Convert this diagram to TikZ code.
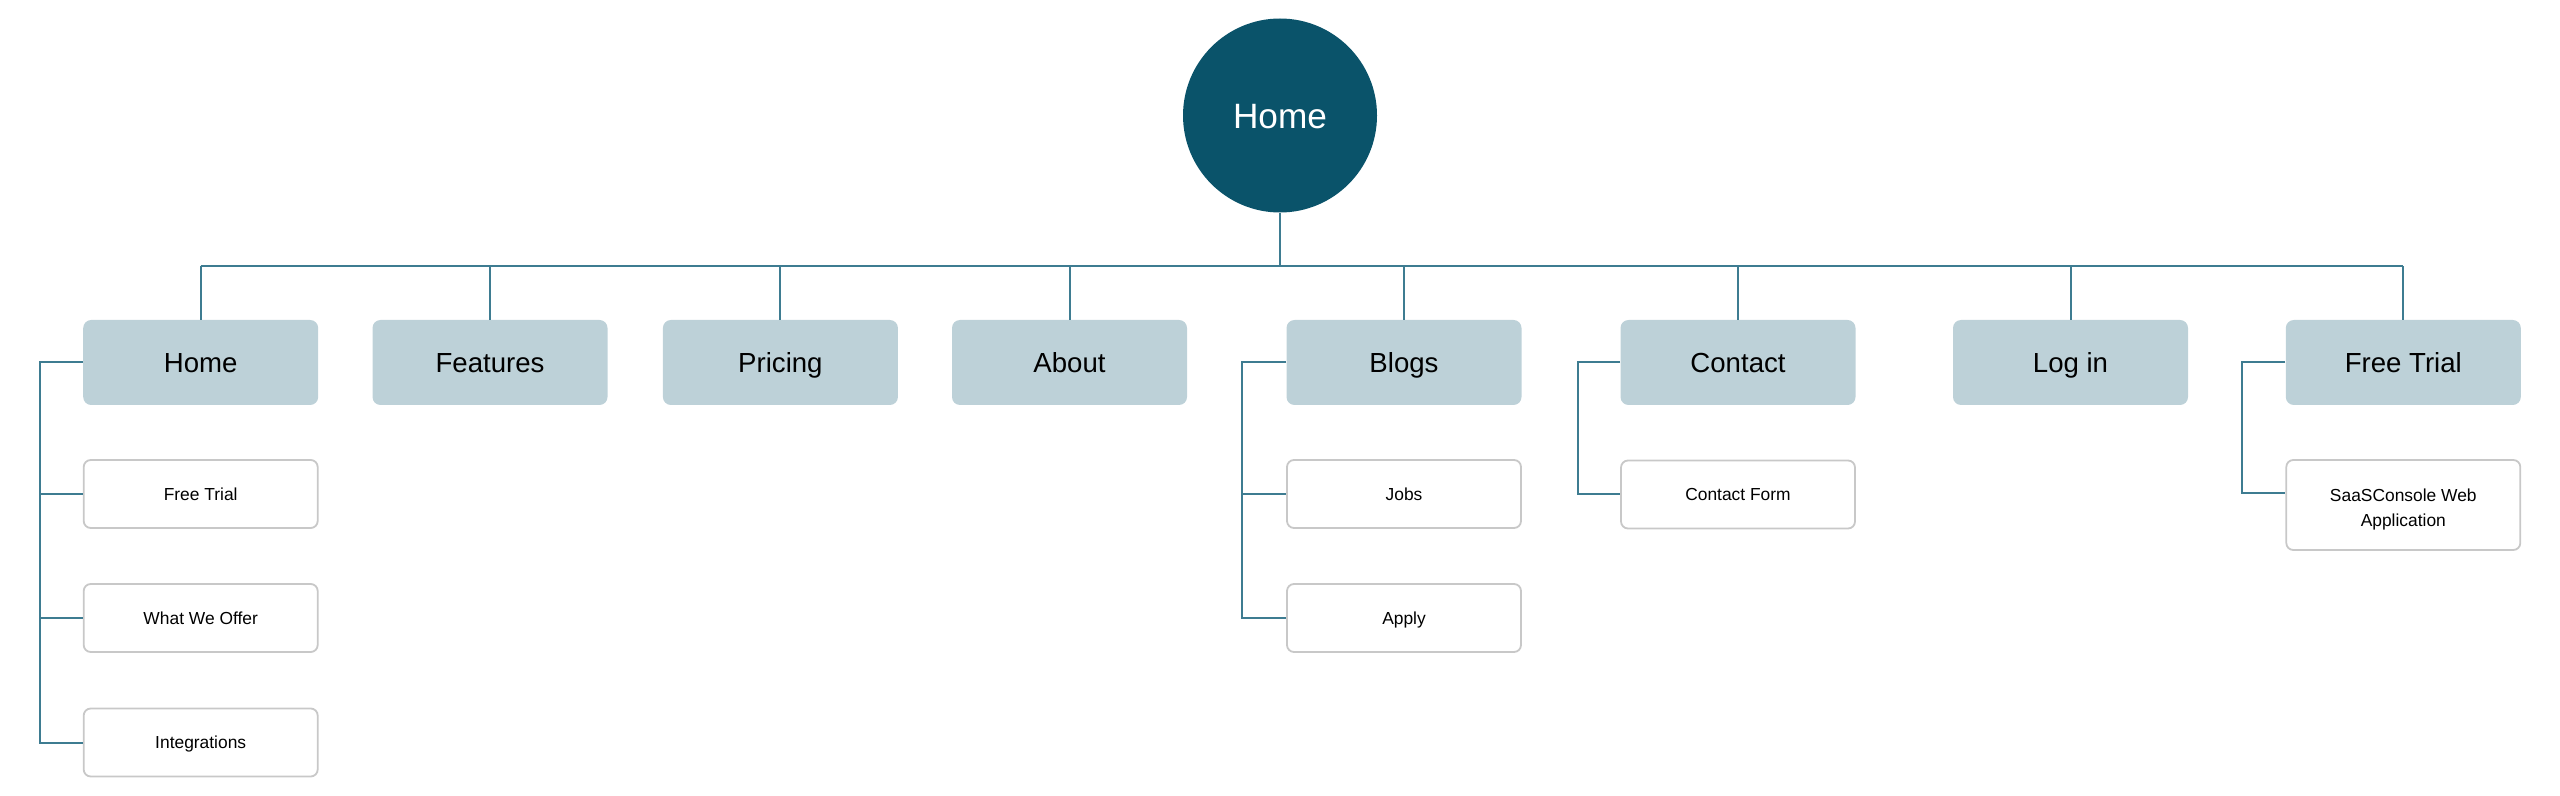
\documentclass[tikz,border=0pt]{standalone}
\usepackage{fontspec}
\setmainfont{Liberation Sans}
\definecolor{rootc}{RGB}{10,83,106}
\definecolor{l1fill}{RGB}{189,209,216}
\definecolor{linec}{RGB}{62,124,145}
\definecolor{subborder}{RGB}{200,200,200}
\tikzset{
  rootnode/.style={circle, fill=rootc, minimum size=97pt, inner sep=0pt, text=white, font=\fontsize{17.6}{21}\selectfont, text height=12.6pt, text depth=0pt},
  lonebox/.style={rectangle, rounded corners=4pt, fill=l1fill, minimum width=117.5pt, minimum height=42.5pt, inner sep=0pt, font=\fontsize{13.8}{16}\selectfont, text height=9.9pt, text depth=0pt},
  subbox/.style={rectangle, rounded corners=3.5pt, draw=subborder, line width=0.9pt, fill=white, minimum width=117pt, minimum height=34pt, inner sep=0pt, font=\fontsize{8.7}{12.5}\selectfont, align=center},
  oneline/.style={text height=6.25pt, text depth=0pt},
  conn/.style={draw=linec, line width=1pt},
}
\begin{document}
\begin{tikzpicture}[x=0.5pt,y=-0.5pt]
\useasboundingbox (0,0) rectangle (2560,796);
\node[rootnode] (root) at (1280,115.5) {Home};
\coordinate (bar) at (0,266);
% level one
\node[lonebox] (hHome) at (200.7,362.5) {Home};
\node[lonebox] (hFeat) at (490,362.5) {Features};
\node[lonebox] (hPric) at (780.4,362.5) {Pricing};
\node[lonebox] (hAbout) at (1069.5,362.5) {About};
\node[lonebox] (hBlogs) at (1404,362.5) {Blogs};
\node[lonebox] (hCont) at (1738,362.5) {Contact};
\node[lonebox] (hLog) at (2070.5,362.5) {Log in};
\node[lonebox] (hFree) at (2403.3,362.5) {Free Trial};
% sub pages
\node[subbox, oneline] (sFree) at (200.7,494) {Free Trial};
\node[subbox, oneline] (sOffer) at (200.7,618) {What We Offer};
\node[subbox, oneline] (sInt) at (200.7,742.5) {Integrations};
\node[subbox, oneline] (sJobs) at (1404,494) {Jobs};
\node[subbox, oneline] (sApply) at (1404,618) {Apply};
\node[subbox, oneline] (sForm) at (1738,494.5) {Contact Form};
\node[subbox, minimum height=45pt] (sSaas) at (2403.3,505) {\rule{0pt}{11pt}SaaSConsole Web\\Application};
% spines
\coordinate (spHome) at (40,0);
\coordinate (spBlogs) at (1242,0);
\coordinate (spCont) at (1577.5,0);
\coordinate (spFree) at (2241.5,0);
% trunk
\draw[conn] (root.south) -- (root.south |- bar);
\draw[conn] (hHome.north |- bar) -- (hFree.north |- bar);
\foreach \n in {hHome,hFeat,hPric,hAbout,hBlogs,hCont,hLog,hFree}
  \draw[conn] (\n.north) -- (\n.north |- bar);
% Home branch
\draw[conn] (hHome.west) -- (hHome.west -| spHome) |- (sInt.west);
\draw[conn] (sFree.west -| spHome) -- (sFree.west);
\draw[conn] (sOffer.west -| spHome) -- (sOffer.west);
% Blogs branch
\draw[conn] (hBlogs.west) -- (hBlogs.west -| spBlogs) |- (sApply.west);
\draw[conn] (sJobs.west -| spBlogs) -- (sJobs.west);
% Contact branch
\draw[conn] (hCont.west) -- (hCont.west -| spCont) |- (sForm.west);
% Free Trial branch
\coordinate (saasIn) at ([yshift=-17pt]sSaas.north west);
\draw[conn] (hFree.west) -- (hFree.west -| spFree) |- (saasIn);
\end{tikzpicture}
\end{document}
